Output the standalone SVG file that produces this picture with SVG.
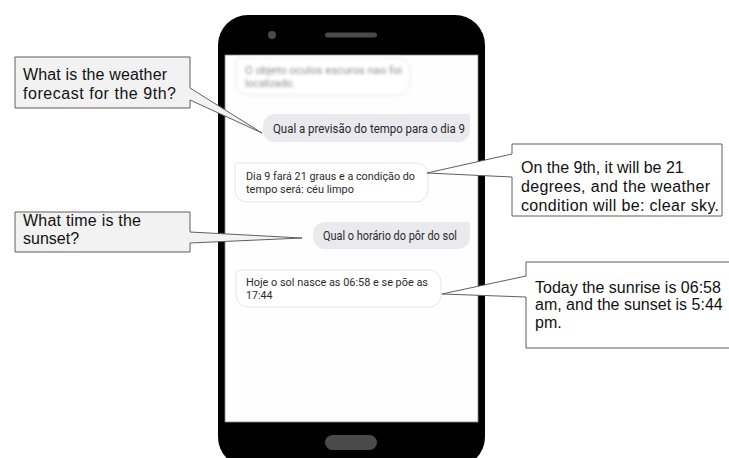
<svg xmlns="http://www.w3.org/2000/svg" width="729" height="458" viewBox="0 0 729 458">
  <defs>
    <filter id="soft" x="-10%" y="-30%" width="120%" height="160%">
      <feGaussianBlur stdDeviation="1.6"/>
    </filter>
  </defs>
  <style>
    .body { fill: #000; }
    .screen { fill: #fefefe; stroke: #8a8a8a; stroke-width: 0.8; }
    .knob { fill: #4a4a4a; }
    .out { fill: #e9e9ee; }
    .in { fill: #ffffff; stroke: #e6e6e6; stroke-width: 1; }
    .chat { font-family: Roboto, "Liberation Sans", sans-serif; font-size: 10.6px; fill: #2b2b2b; }
    .ask { font-size: 12.2px; }
    .callout { stroke: #5f5f5f; stroke-width: 1; stroke-linejoin: miter; }
    .grey { fill: #f2f2f2; }
    .white { fill: #ffffff; }
    .note { font-family: "Liberation Sans", Arial, sans-serif; font-size: 16px; fill: #111; }
  </style>

  <!-- handset -->
  <g id="phone">
    <rect class="body" x="218" y="15" width="267" height="452" rx="30"/>
    <rect class="screen" x="225" y="55" width="253" height="367"/>
    <circle class="knob" cx="272" cy="35" r="4"/>
    <rect class="knob" x="325" y="32.5" width="52" height="5" rx="2.5"/>
    <rect class="knob" x="325" y="435" width="52" height="15" rx="7.5"/>
  </g>

  <!-- chat history -->
  <g id="msg-hidden" filter="url(#soft)">
    <path class="in" d="M239,58 H398 A12,12 0 0 1 410,70 V83 A12,12 0 0 1 398,95 H248 A12,12 0 0 1 236,83 V61 Q236,58 239,58 Z"/>
    <text class="chat" style="fill:#7a7a7a" x="245" y="73.5" textLength="157" lengthAdjust="spacingAndGlyphs">O objeto oculos escuros nao foi</text>
    <text class="chat" style="fill:#7a7a7a" x="245" y="87" textLength="50" lengthAdjust="spacingAndGlyphs">localizado.</text>
  </g>

  <g id="msg-question-1">
    <path class="out" d="M275,114 H467 Q470,114 470,117 V130 A12,12 0 0 1 458,142 H275 A12,12 0 0 1 263,130 V126 A12,12 0 0 1 275,114 Z"/>
    <text class="chat ask" x="273" y="133" textLength="192" lengthAdjust="spacingAndGlyphs">Qual a previsão do tempo para o dia 9</text>
  </g>

  <g id="msg-answer-1">
    <path class="in" d="M238,163 H416 A12,12 0 0 1 428,175 V190 A12,12 0 0 1 416,202 H247 A12,12 0 0 1 235,190 V166 Q235,163 238,163 Z"/>
    <text class="chat" x="246" y="180" textLength="169" lengthAdjust="spacingAndGlyphs">Dia 9 fará 21 graus e a condição do</text>
    <text class="chat" x="246" y="193" textLength="108" lengthAdjust="spacingAndGlyphs">tempo será: céu limpo</text>
  </g>

  <g id="msg-question-2">
    <path class="out" d="M325,222 H467 Q470,222 470,225 V237 A12,12 0 0 1 458,249 H325 A12,12 0 0 1 313,237 V234 A12,12 0 0 1 325,222 Z"/>
    <text class="chat ask" x="323" y="240" textLength="134" lengthAdjust="spacingAndGlyphs">Qual o horário do pôr do sol</text>
  </g>

  <g id="msg-answer-2">
    <path class="in" d="M239,270 H429 A12,12 0 0 1 441,282 V295 A12,12 0 0 1 429,307 H248 A12,12 0 0 1 236,295 V273 Q236,270 239,270 Z"/>
    <text class="chat" x="246" y="285.5" textLength="182" lengthAdjust="spacingAndGlyphs">Hoje o sol nasce as 06:58 e se põe as</text>
    <text class="chat" x="246" y="298.5">17:44</text>
  </g>

  <!-- translation callouts -->
  <g id="callout-question-1">
    <path class="callout grey" d="M15,57 H190 V88 L262,133 L190,100 V108 H15 Z"/>
    <text class="note" x="23" y="80" textLength="144">What is the weather</text>
    <text class="note" x="23" y="98.5" textLength="153">forecast for the 9th?</text>
  </g>

  <g id="callout-question-2">
    <path class="callout grey" d="M15,212 H190 V232 L302,238 L190,243 V252 H15 Z"/>
    <text class="note" x="23" y="226" textLength="118">What time is the</text>
    <text class="note" x="23" y="243.5">sunset?</text>
  </g>

  <g id="callout-answer-1">
    <path class="callout white" d="M512,144 H722 V216 H512 V177 L427,173 L512,154 Z"/>
    <text class="note" x="521" y="172.5">On the 9th, it will be 21</text>
    <text class="note" x="521" y="191.5" textLength="189">degrees, and the weather</text>
    <text class="note" x="521" y="210.5" textLength="198">condition will be: clear sky.</text>
  </g>

  <g id="callout-answer-2">
    <path class="callout white" d="M526,262 H740 V348 H526 V297 L442,294 L526,276 Z"/>
    <text class="note" x="535" y="292.5">Today the sunrise is 06:58</text>
    <text class="note" x="535" y="310">am, and the sunset is 5:44</text>
    <text class="note" x="535" y="327.5">pm.</text>
  </g>
</svg>
